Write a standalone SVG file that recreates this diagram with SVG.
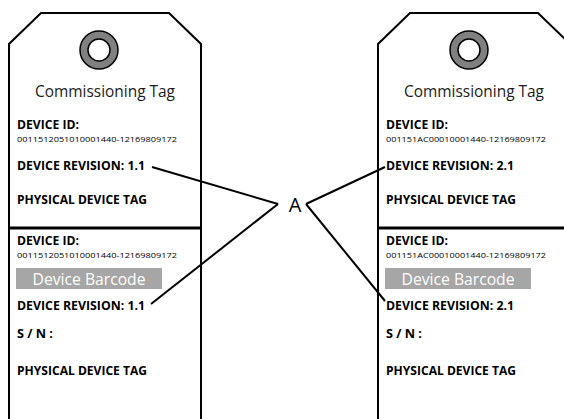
<svg xmlns="http://www.w3.org/2000/svg" width="564" height="419" viewBox="0 0 564 419">
<style>
.outline{fill:#fff;stroke:#000;stroke-width:2}
.sep{stroke:#000;stroke-width:3}
.ring{fill:#808080;stroke:#000;stroke-width:1.5}
.hole{fill:#fff;stroke:#000;stroke-width:1.5}
.title{font-family:"Open Sans",Lato,sans-serif;font-size:16.5px;fill:#1a1a1a;text-anchor:middle}
.lbl{font-family:"Open Sans",Lato,sans-serif;font-size:12.5px;font-weight:bold;fill:#000}
.num{font-family:"Open Sans",Lato,sans-serif;font-size:8px;fill:#000}
.bar{fill:#a6a6a6}
.bartxt{font-family:"Open Sans",Lato,sans-serif;font-size:16px;fill:#fff;text-anchor:middle}
.conn{stroke:#000;stroke-width:2;fill:none}
.a{font-family:"Open Sans",Lato,sans-serif;font-size:20px;fill:#000;text-anchor:middle}
</style>
<g id="tag-left">
<path class="outline" d="M9,420 L9,44 L41,13 L169,13 L201,44 L201,420"/>
<line class="sep" x1="9" y1="228" x2="201" y2="228"/>
<circle class="ring" cx="99" cy="50" r="19"/>
<circle class="hole" cx="99" cy="50" r="11"/>
<text class="title" x="105" y="97" textLength="140" lengthAdjust="spacingAndGlyphs">Commissioning Tag</text>
<text class="lbl" x="17" y="129" textLength="62" lengthAdjust="spacingAndGlyphs">DEVICE ID:</text>
<text class="num" x="17" y="142" textLength="160" lengthAdjust="spacingAndGlyphs">0011512051010001440-12169809172</text>
<text class="lbl" x="17" y="170" textLength="128" lengthAdjust="spacingAndGlyphs">DEVICE REVISION: 1.1</text>
<text class="lbl" x="17" y="204" textLength="130" lengthAdjust="spacingAndGlyphs">PHYSICAL DEVICE TAG</text>
<text class="lbl" x="17" y="245" textLength="62" lengthAdjust="spacingAndGlyphs">DEVICE ID:</text>
<text class="num" x="17" y="258" textLength="160" lengthAdjust="spacingAndGlyphs">0011512051010001440-12169809172</text>
<rect class="bar" x="16" y="268" width="146" height="21"/>
<text class="bartxt" x="89" y="285" textLength="113" lengthAdjust="spacingAndGlyphs">Device Barcode</text>
<text class="lbl" x="17" y="310" textLength="128" lengthAdjust="spacingAndGlyphs">DEVICE REVISION: 1.1</text>
<text class="lbl" x="17" y="338" textLength="36" lengthAdjust="spacingAndGlyphs">S / N :</text>
<text class="lbl" x="17" y="375" textLength="130" lengthAdjust="spacingAndGlyphs">PHYSICAL DEVICE TAG</text>
</g>
<g id="tag-right">
<path class="outline" d="M378,420 L378,44 L410,13 L538,13 L570,44 L570,420"/>
<line class="sep" x1="378" y1="228" x2="570" y2="228"/>
<circle class="ring" cx="469" cy="50" r="19"/>
<circle class="hole" cx="469" cy="50" r="11"/>
<text class="title" x="474" y="97" textLength="140" lengthAdjust="spacingAndGlyphs">Commissioning Tag</text>
<text class="lbl" x="386" y="129" textLength="62" lengthAdjust="spacingAndGlyphs">DEVICE ID:</text>
<text class="num" x="386" y="142" textLength="160" lengthAdjust="spacingAndGlyphs">001151AC00010001440-12169809172</text>
<text class="lbl" x="386" y="170" textLength="128" lengthAdjust="spacingAndGlyphs">DEVICE REVISION: 2.1</text>
<text class="lbl" x="386" y="204" textLength="130" lengthAdjust="spacingAndGlyphs">PHYSICAL DEVICE TAG</text>
<text class="lbl" x="386" y="245" textLength="62" lengthAdjust="spacingAndGlyphs">DEVICE ID:</text>
<text class="num" x="386" y="258" textLength="160" lengthAdjust="spacingAndGlyphs">001151AC00010001440-12169809172</text>
<rect class="bar" x="385" y="268" width="146" height="21"/>
<text class="bartxt" x="458" y="285" textLength="113" lengthAdjust="spacingAndGlyphs">Device Barcode</text>
<text class="lbl" x="386" y="310" textLength="128" lengthAdjust="spacingAndGlyphs">DEVICE REVISION: 2.1</text>
<text class="lbl" x="386" y="338" textLength="36" lengthAdjust="spacingAndGlyphs">S / N :</text>
<text class="lbl" x="386" y="375" textLength="130" lengthAdjust="spacingAndGlyphs">PHYSICAL DEVICE TAG</text>
</g>
<g id="label-a">
<text class="a" x="295" y="212">A</text>
</g>
<g id="connectors">
<line class="conn" x1="152" y1="167" x2="278" y2="204"/>
<line class="conn" x1="151" y1="304" x2="278" y2="204"/>
<line class="conn" x1="306" y1="204" x2="385" y2="167"/>
<line class="conn" x1="306" y1="204" x2="385" y2="301"/>
</g>
</svg>
